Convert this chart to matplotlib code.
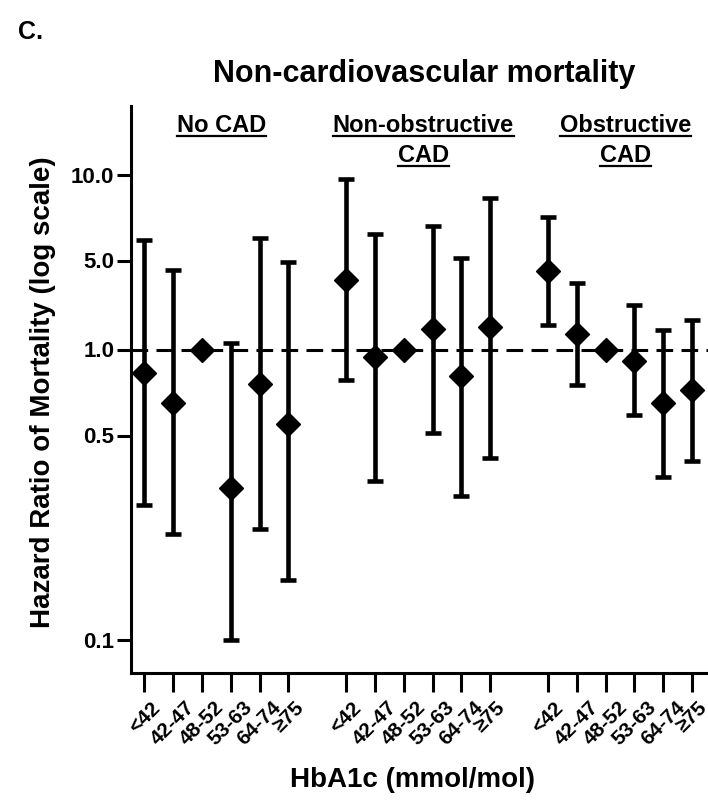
import numpy as np
import matplotlib
matplotlib.use("Agg")
import matplotlib.pyplot as plt
from matplotlib.lines import Line2D

plt.rcParams['font.family'] = ['Liberation Sans', 'DejaVu Sans']
plt.rcParams['font.weight'] = 'bold'
plt.rcParams['lines.scale_dashes'] = False

# data (hazard ratios)
hba1c = ['<42', '42-47', '48-52', '53-63', '64-74', '≥75']
groups = ['No CAD', 'Non-obstructive\nCAD', 'Obstructive\nCAD']

hr_no = [0.83, 0.65, 1.0, 0.33, 0.76, 0.55]
lo_no = [0.29, 0.23, 1.0, 0.10, 0.24, 0.16]
hi_no = [5.9, 4.2, 1.0, 1.13, 6.0, 4.9]

hr_nonobs = [3.5, 0.94, 1.0, 1.46, 0.81, 1.49]
lo_nonobs = [0.78, 0.35, 1.0, 0.51, 0.31, 0.42]
hi_nonobs = [9.7, 6.2, 1.0, 6.6, 5.1, 8.3]

hr_obs = [4.1, 1.33, 1.0, 0.91, 0.65, 0.72]
lo_obs = [1.55, 0.75, 1.0, 0.59, 0.36, 0.41]
hi_obs = [7.1, 3.3, 1.0, 2.25, 1.41, 1.69]

yticks = [0.1, 0.5, 1.0, 5.0, 10.0]

# the original axis is not evenly logarithmic; piecewise scale through the tick marks
knots_log = [-3, -1, np.log10(0.5), 0, np.log10(5), 1, 3]
knots_pos = [-585.2, 0, 204.5, 290.5, 379.5, 465, 1033]


def fwd(y):
    y = np.clip(np.asarray(y, dtype=float), 1e-6, None)
    return np.interp(np.log10(y), knots_log, knots_pos)


def inv(p):
    return 10 ** np.interp(np.asarray(p, dtype=float), knots_pos, knots_log)


fig = plt.figure(figsize=(7.08, 8.07), dpi=100)
ax = fig.add_axes([131 / 708, 1 - 673 / 807, 1 - 131 / 708, (673 - 106) / 807])
ax.set_yscale('function', functions=(fwd, inv))

all_hr = [hr_no, hr_nonobs, hr_obs]
all_lo = [lo_no, lo_nonobs, lo_obs]
all_hi = [hi_no, hi_nonobs, hi_obs]

xpos = []
for g in range(3):
    x = np.arange(6) + 7 * g
    xpos.extend(x)
    hr = np.array(all_hr[g])
    lo = np.array(all_lo[g])
    hi = np.array(all_hi[g])
    ax.errorbar(x, hr, yerr=[hr - lo, hi - hr], fmt='none', ecolor='black',
                elinewidth=3.3, capsize=6, capthick=3.3, zorder=3)
    ax.plot(x, hr, 'D', color='black', markersize=12, zorder=4)

ax.axhline(1.0, color='black', lw=2.2, dashes=[12, 6], zorder=2)

ax.set_xlim(-0.46, 19.55)
ax.set_ylim(inv(-33), inv(534))
ax.set_yticks(yticks)
ax.set_yticklabels(['0.1', '0.5', '1.0', '5.0', '10.0'])
ax.yaxis.set_minor_locator(matplotlib.ticker.NullLocator())
ax.set_xticks(xpos)
ax.set_xticklabels(hba1c * 3, rotation=45)

for s in ['top', 'right']:
    ax.spines[s].set_visible(False)
for s in ['left', 'bottom']:
    ax.spines[s].set_linewidth(2.2)
ax.tick_params(axis='y', length=10, width=2.2, pad=2, labelsize=16)
ax.tick_params(axis='x', length=14, width=2.2, pad=4, labelsize=15)

# group headers, underlined
trans = matplotlib.transforms.blended_transform_factory(ax.transData, ax.transAxes)
heads = []
for g, name in enumerate(groups):
    cx = 7 * g + 2.5 + 0.18
    for k, line in enumerate(name.split('\n')):
        t = ax.text(cx, 0.966 - 0.053 * k, line, transform=trans, ha='center',
                    va='center', fontsize=17, fontweight='bold')
        heads.append(t)

fig.text(0.025, 0.975, 'C.', fontsize=18, fontweight='bold', va='top', ha='left')
fig.text(424 / 708, 1 - 74 / 807, 'Non-cardiovascular mortality', fontsize=22,
         fontweight='bold', ha='center', va='center')
fig.text(43 / 708, 1 - 392 / 807, 'Hazard Ratio of Mortality (log scale)', fontsize=20,
         fontweight='bold', rotation=90, ha='center', va='center')
fig.text(413 / 708, 1 - 780 / 807, 'HbA1c (mmol/mol)', fontsize=20,
         fontweight='bold', ha='center', va='center')

fig.canvas.draw()
r = fig.canvas.get_renderer()
to_fig = fig.transFigure.inverted()
for t in heads:
    bb = t.get_window_extent(r)
    (x0, y0), (x1, _) = to_fig.transform([(bb.x0, bb.y0 + 1), (bb.x1, bb.y0 + 1)])
    fig.add_artist(Line2D([x0, x1], [y0, y0], color='black', lw=1.6,
                          transform=fig.transFigure))

fig.savefig('out.png', dpi=100)
